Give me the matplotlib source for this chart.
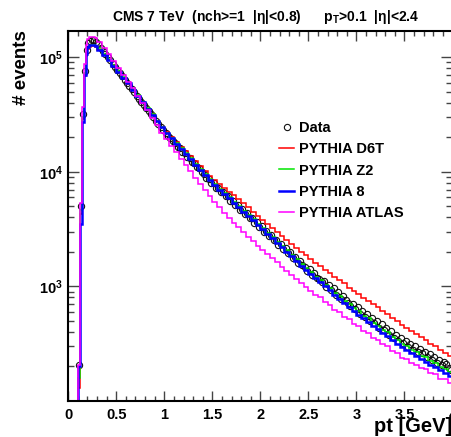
import numpy as np
import matplotlib
matplotlib.use("Agg")
import matplotlib.pyplot as plt
from matplotlib.ticker import MultipleLocator, FixedLocator, FixedFormatter, NullFormatter, FormatStrFormatter

plt.rcParams['font.family'] = ['Liberation Sans', 'DejaVu Sans']
plt.rcParams['font.weight'] = 'bold'
plt.rcParams['mathtext.fontset'] = 'custom'
plt.rcParams['mathtext.rm'] = 'Liberation Sans:bold'
plt.rcParams['mathtext.bf'] = 'Liberation Sans:bold'

# MC bin edges (fine bins at the turn-on, then 0.05 GeV)
edges = np.concatenate([[0.0],
                        np.round(np.arange(0.10, 0.2999, 0.02), 3),
                        np.round(np.arange(0.30, 4.0001, 0.05), 3)])

# data points: 0.02 GeV bins up to 0.3, then 0.025 GeV
data_pt = np.concatenate([np.round(np.arange(0.11, 0.30, 0.02), 3),
                          np.round(np.arange(0.3125, 4.0, 0.025), 4)])

data_counts = [
    205, 5000, 31600, 76000, 115000, 132000, 138000, 141000, 140600, 136000,
    129100, 121000, 113500, 106400, 99800, 93500, 87700, 82200, 77100, 72200,
    67800, 63500, 59650, 56000, 52500, 49300, 46200, 43400, 40800, 38300,
    35900, 33700, 31700, 29750, 27900, 26150, 24550, 23050, 21900, 20500,
    19700, 18450, 17800, 16600, 16100, 15000, 14500, 13500, 13100, 12150,
    11850, 10950, 10700, 9900, 9650, 8900, 8700, 8050, 7950, 7250,
    7250, 6650, 6700, 6100, 6100, 5550, 5600, 5100, 5150, 4680,
    4720, 4270, 4330, 3920, 3960, 3590, 3640, 3290, 3330, 3010,
    3050, 2760, 2800, 2520, 2560, 2310, 2350, 2120, 2150, 1940,
    1980, 1760, 1820, 1600, 1670, 1540, 1480, 1350, 1410, 1250,
    1310, 1190, 1150, 1100, 1120, 985, 1035, 930, 960, 840,
    890, 780, 825, 760, 720, 668, 705, 630, 655, 575,
    612, 536, 570, 500, 532, 480, 498, 436, 465, 420,
    435, 380, 405, 355, 380, 332, 354, 320, 333, 295,
    315, 279, 299, 265, 284, 262, 270, 240, 256, 228,
    243, 216, 230, 205, 219, 210, 194, 186]

d6t_counts = [100,
    130, 4300, 29000, 69000, 102000, 117000, 122000, 124000, 124000, 122000,
    116600, 105000, 94400, 84900, 74600, 65600, 57900, 51400, 45400, 40200,
    35600, 31600, 27900, 24800, 22260, 20130, 18270, 16590, 15040, 13630,
    12370, 11200, 10180, 9220, 8460, 7830, 7260, 6720, 6230, 5760,
    5310, 4890, 4500, 4140, 3820, 3530, 3250, 3000, 2770, 2550,
    2350, 2170, 2010, 1860, 1720, 1607, 1500, 1400, 1303, 1213,
    1130, 1060, 975, 915, 855, 795, 752, 696, 655, 606,
    570, 527, 497, 459, 434, 404, 385, 359, 340, 316,
    300, 280, 264, 246]

z2_counts = [100,
    160, 4600, 30000, 72000, 106000, 121000, 126000, 128000, 127500, 125000,
    119400, 107400, 95500, 84900, 75500, 66800, 59100, 52300, 46300, 40900,
    36000, 31800, 27900, 24600, 21900, 19770, 17800, 16090, 14490, 13070,
    11790, 10610, 9570, 8600, 7820, 7140, 6550, 5980, 5490, 5010,
    4590, 4200, 3860, 3530, 3230, 2950, 2690, 2460, 2260, 2060,
    1880, 1720, 1570, 1440, 1330, 1210, 1135, 1030, 965, 878,
    826, 752, 707, 642, 606, 553, 526, 478, 455, 415,
    396, 359, 343, 312, 300, 276, 268, 248, 241, 222,
    216, 198, 192, 178]

p8_counts = [100,
    200, 3500, 27000, 70000, 106000, 122000, 126500, 127500, 127000, 124000,
    116600, 105000, 94400, 84000, 74600, 66400, 58900, 52100, 45800, 40400,
    35600, 31400, 27600, 24350, 21700, 19540, 17560, 15850, 14220, 12810,
    11530, 10390, 9340, 8430, 7640, 7000, 6400, 5860, 5360, 4910,
    4490, 4110, 3770, 3450, 3145, 2880, 2620, 2396, 2190, 1997,
    1823, 1664, 1520, 1391, 1276, 1175, 1083, 998, 921, 847,
    782, 720, 664, 611, 566, 527, 490, 455, 423, 394,
    367, 340, 317, 295, 276, 260, 246, 233, 221, 208,
    197, 186, 176, 166]

atlas_counts = [100,
    205, 5300, 37000, 88000, 128000, 145000, 150000, 151000, 150000, 146000,
    135500, 120500, 105900, 93000, 80900, 70300, 61200, 53300, 46150, 39970,
    34400, 29650, 25490, 21970, 19120, 16830, 14780, 13030, 11440, 10080,
    8880, 7830, 6900, 6090, 5420, 4880, 4400, 3970, 3600, 3270,
    2970, 2710, 2470, 2260, 2070, 1908, 1752, 1616, 1490, 1373,
    1264, 1164, 1074, 992, 918, 840, 800, 725, 690, 625,
    595, 540, 515, 465, 447, 405, 392, 356, 343, 312,
    300, 272, 262, 238, 231, 213, 208, 193, 189, 174,
    171, 157, 154, 143]

fig = plt.figure(figsize=(4.52, 4.37), dpi=100)
ax = fig.add_axes([0.151, 0.0824, 0.85, 0.8466])

# data circles sit underneath the MC histograms
ax.plot(data_pt, data_counts, 'o', mfc='none', mec='#111111', ms=4.5, mew=0.8,
        label='Data', zorder=1)
ax.stairs(d6t_counts, edges, baseline=None, color='#ff0000', lw=1.1, label='PYTHIA D6T', zorder=2)
ax.stairs(z2_counts, edges, baseline=None, color='#00e600', lw=1.1, label='PYTHIA Z2', zorder=2)
ax.stairs(p8_counts, edges, baseline=None, color='#0000ff', lw=1.8, label='PYTHIA 8', zorder=2)
ax.stairs(atlas_counts, edges, baseline=None, color='#ff00ff', lw=1.1, label='PYTHIA ATLAS', zorder=2)

ax.set_yscale('log')
ax.set_xlim(0, 4)
ax.set_ylim(100, 1.69e5)

ax.xaxis.set_major_locator(MultipleLocator(0.5))
ax.xaxis.set_minor_locator(MultipleLocator(0.1))
ax.xaxis.set_major_formatter(FormatStrFormatter('%g'))
ax.yaxis.set_major_locator(FixedLocator([1e3, 1e4, 1e5]))
ax.yaxis.set_major_formatter(FixedFormatter([r'$\mathbf{10^{3}}$', r'$\mathbf{10^{4}}$', r'$\mathbf{10^{5}}$']))
ax.yaxis.set_minor_locator(FixedLocator([m * 10**e for e in (2, 3, 4, 5) for m in range(2, 10)]))
ax.yaxis.set_minor_formatter(NullFormatter())

ax.tick_params(which='both', direction='in', top=True, right=True, color='#444444', width=1)
ax.tick_params(axis='x', which='major', length=7.2, labelsize=10.5, pad=5)
ax.tick_params(axis='x', which='minor', length=3.6)
ax.tick_params(axis='y', which='major', length=8, labelsize=10.5, pad=4)
ax.tick_params(axis='y', which='minor', length=4.3)
for s in ax.spines.values():
    s.set_linewidth(1.5)

handles, labels = ax.get_legend_handles_labels()
ax.legend(handles, labels,
          loc='upper left', bbox_to_anchor=(279 / 452, 1 - 121 / 437),
          bbox_transform=fig.transFigure, frameon=False, fontsize=10.5,
          handlelength=1.05, handletextpad=0.35, labelspacing=0.5, borderpad=0,
          borderaxespad=0)

fig.text(112 / 452, 1 - 17 / 437,
         'CMS 7 TeV  (nch>=1  |η|<0.8)      p$_{\\mathrm{T}}$>0.1  |η|<2.4',
         ha='left', va='center', fontsize=10, fontweight='bold')
fig.text(1.0, 1 - 427 / 437, 'pt [GeV]', ha='right', va='center', fontsize=14.5, fontweight='bold')
fig.text(22 / 452, 1 - 30 / 437, '# events', ha='center', va='top', rotation=90,
         fontsize=13.5, fontweight='bold')

fig.savefig('out.png', dpi=100)
